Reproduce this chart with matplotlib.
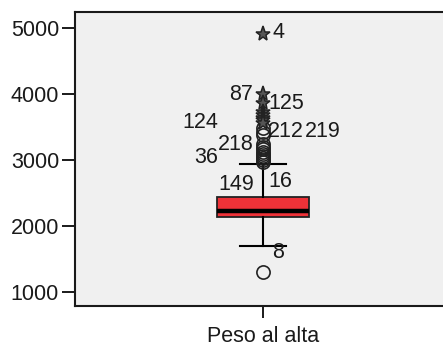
import matplotlib
matplotlib.use("Agg")
import matplotlib.pyplot as plt

plt.rcParams['font.family'] = ['Liberation Sans', 'DejaVu Sans']

# Box summary for "Peso al alta"
variable = "Peso al alta"
q1, median, q3 = 2143, 2225, 2446
whisker_low, whisker_high = 1698, 2942

# Mild outliers (circles) and extreme outliers (stars)
circle_values = [3480, 3420, 3380, 3250, 3200, 3160, 3120, 3090, 3060,
                 3030, 3000, 2970, 1310]
star_values = [4910, 4000, 3870, 3720, 3680, 3640, 3600, 3560]

# Case-number labels and where they sit (x in category units, y in grams)
case_labels = ["4", "87", "125", "124", "212", "219", "218", "36", "149", "16", "8"]
label_x = [1.024, 0.973, 1.013, 0.785, 1.013, 1.112, 0.880, 0.816, 0.880, 1.013, 1.024]
label_y = [4930, 3990, 3853, 3564, 3428, 3428, 3231, 3033, 2624, 2669, 1592]
label_ha = ["left", "right", "left", "left", "left", "left", "left", "left",
            "left", "left", "left"]

yticks = [1000, 2000, 3000, 4000, 5000]

W, H = 443, 342
fig = plt.figure(figsize=(W / 100, H / 100), dpi=100)
fig.patch.set_facecolor("white")
ax = fig.add_axes([75 / W, 1 - 306 / H, 376 / W, (306 - 11.7) / H])
ax.set_facecolor("#f0f0f0")

stats = [dict(med=median, q1=q1, q3=q3, whislo=whisker_low,
              whishi=whisker_high, fliers=[], label=variable)]
ax.bxp(stats, positions=[1], widths=0.245, patch_artist=True,
       showfliers=False,
       boxprops=dict(facecolor="#ee3238", edgecolor="#222222", linewidth=1.3),
       medianprops=dict(color="black", linewidth=3.2, solid_capstyle="butt"),
       whiskerprops=dict(color="black", linewidth=1.5),
       capprops=dict(color="black", linewidth=1.5),
       capwidths=0.122)

ax.plot([1] * len(circle_values), circle_values, linestyle="none",
        marker="o", markersize=9.5, markerfacecolor="none",
        markeredgecolor="#222222", markeredgewidth=1.2, zorder=3)
ax.plot([1] * len(star_values), star_values, linestyle="none",
        marker="*", markersize=11, markerfacecolor="#555555",
        markeredgecolor="#222222", markeredgewidth=1.1, zorder=3)

for txt, x, y, ha in zip(case_labels, label_x, label_y, label_ha):
    ax.text(x, y, txt, ha=ha, va="center", fontsize=15.5, color="#1a1a1a")

ax.set_xlim(0.5, 1.5)
ax.set_ylim(788, 5247)
ax.set_yticks(yticks)
ax.set_yticklabels([str(v) for v in yticks])
ax.set_xticks([1])
ax.set_xticklabels([variable])
ax.tick_params(axis="y", length=9.5, width=1.4, pad=2, labelsize=15.5,
               colors="#1a1a1a")
ax.tick_params(axis="x", length=8.5, width=1.4, pad=6, labelsize=15.5,
               colors="#1a1a1a")
for side in ("left", "top", "bottom"):
    ax.spines[side].set_linewidth(1.5)
    ax.spines[side].set_color("#1a1a1a")
ax.spines["right"].set_visible(False)

fig.savefig("out.png", dpi=100)
